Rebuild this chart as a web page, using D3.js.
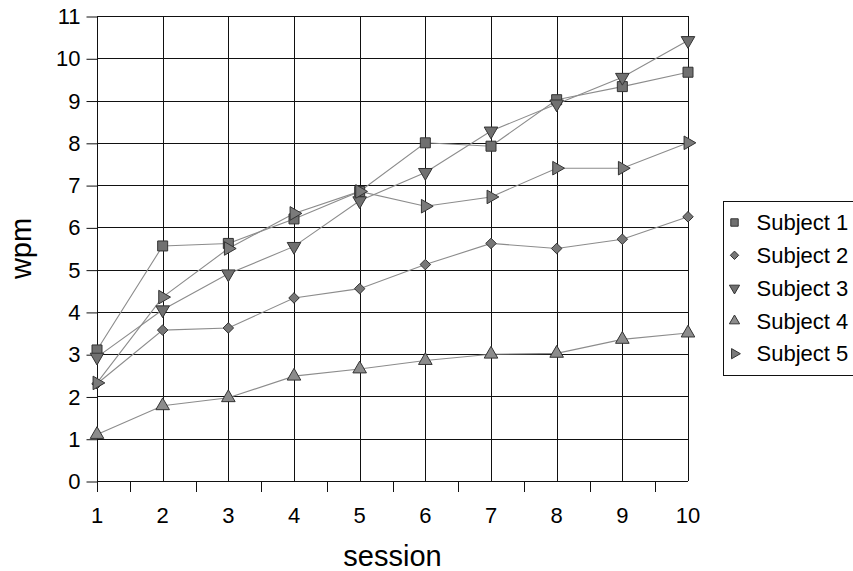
<!DOCTYPE html>
<html>
<head>
<meta charset="utf-8">
<title>wpm per session</title>
<script src="https://cdn.jsdelivr.net/npm/d3@7/dist/d3.min.js"></script>
<style>
  body { margin: 0; background: #fff; }
  svg text { font-family: "Liberation Sans", Arial, sans-serif; fill: #000; }
</style>
</head>
<body>
<div id="chart"></div>
<script>
// data
const sessions = [1, 2, 3, 4, 5, 6, 7, 8, 9, 10];
const yTicks = [0, 1, 2, 3, 4, 5, 6, 7, 8, 9, 10, 11];
const subjectNames = ["Subject 1", "Subject 2", "Subject 3", "Subject 4", "Subject 5"];
const subject1 = [3.1, 5.56, 5.62, 6.2, 6.85, 8.0, 7.92, 9.02, 9.33, 9.67];
const subject2 = [2.3, 3.57, 3.62, 4.33, 4.55, 5.12, 5.62, 5.5, 5.72, 6.25];
const subject3 = [2.93, 4.05, 4.9, 5.55, 6.63, 7.3, 8.28, 8.92, 9.55, 10.42];
const subject4 = [1.1, 1.78, 1.97, 2.48, 2.65, 2.85, 3.0, 3.02, 3.35, 3.5];
const subject5 = [2.32, 4.35, 5.5, 6.33, 6.85, 6.5, 6.72, 7.4, 7.4, 8.0];
const series = [subject1, subject2, subject3, subject4, subject5];

const width = 853, height = 571;
const margin = {top: 16, right: 165, bottom: 90, left: 97};

const svg = d3.select("#chart").append("svg")
    .attr("width", width)
    .attr("height", height);

const x = d3.scaleLinear()
    .domain([1, 10])
    .range([margin.left, width - margin.right]);

const y = d3.scaleLinear()
    .domain([0, 11])
    .range([height - margin.bottom, margin.top]);

// gridlines
svg.append("g")
    .selectAll("line")
    .data(yTicks)
    .join("line")
    .attr("x1", x(1)).attr("x2", x(10))
    .attr("y1", d => Math.round(y(d)) + 0.5)
    .attr("y2", d => Math.round(y(d)) + 0.5)
    .attr("stroke", "#111");

svg.append("g")
    .selectAll("line")
    .data(sessions)
    .join("line")
    .attr("x1", d => Math.round(x(d)) + 0.5)
    .attr("x2", d => Math.round(x(d)) + 0.5)
    .attr("y1", y(11)).attr("y2", y(0))
    .attr("stroke", "#111");

// y axis
const yAxis = g => g
    .attr("transform", `translate(${Math.round(x(1)) + 0.5},0.5)`)
    .call(d3.axisLeft(y).tickValues(yTicks).tickSize(11).tickPadding(6))
    .call(g => g.select(".domain").remove())
    .call(g => g.selectAll(".tick line").attr("stroke", "#111"))
    .call(g => g.selectAll(".tick text")
        .attr("font-size", 22)
        .attr("font-family", "Liberation Sans, Arial, sans-serif"));
svg.append("g").call(yAxis);

// x axis: labels at sessions, ticks between them
const xMid = d3.range(1, 10).map(d => d + 0.5);
svg.append("g")
    .selectAll("line")
    .data([1].concat(xMid))
    .join("line")
    .attr("x1", d => Math.round(x(d)) + 0.5)
    .attr("x2", d => Math.round(x(d)) + 0.5)
    .attr("y1", y(0)).attr("y2", y(0) + 11)
    .attr("stroke", "#111");

svg.append("g")
    .selectAll("text")
    .data(sessions)
    .join("text")
    .attr("x", d => x(d))
    .attr("y", 523)
    .attr("text-anchor", "middle")
    .attr("font-size", 22)
    .text(d => d);

// axis titles
svg.append("text")
    .attr("x", (x(1) + x(10)) / 2)
    .attr("y", 566)
    .attr("text-anchor", "middle")
    .attr("font-size", 29)
    .text("session");

svg.append("text")
    .attr("transform", `translate(31,${(y(0) + y(11)) / 2}) rotate(-90)`)
    .attr("text-anchor", "middle")
    .attr("font-size", 29)
    .text("wpm");

// marker shapes
const shapes = [
  d3.symbol().type(d3.symbolSquare).size(100),
  d3.symbol().type(d3.symbolDiamond2).size(70),
  d3.symbol().type(d3.symbolTriangle).size(80),
  d3.symbol().type(d3.symbolTriangle).size(80),
  d3.symbol().type(d3.symbolTriangle).size(80)
];
const rotations = [0, 0, 180, 0, 90];
const fills = ["#707070", "#777", "#707070", "#8c8c8c", "#7a7a7a"];

const line = d3.line()
    .x((d, i) => x(sessions[i]))
    .y(d => y(d));

const plot = svg.append("g");
series.forEach(vals => {
  plot.append("path")
      .datum(vals)
      .attr("d", line)
      .attr("fill", "none")
      .attr("stroke", "#8c8c8c")
      .attr("stroke-width", 1.1);
});
series.forEach((vals, s) => {
  plot.append("g")
      .selectAll("path")
      .data(vals)
      .join("path")
      .attr("d", shapes[s])
      .attr("transform", (d, i) => `translate(${x(sessions[i])},${y(d)}) rotate(${rotations[s]})`)
      .attr("fill", fills[s])
      .attr("stroke", "#333")
      .attr("stroke-width", 1);
});

// legend
const legend = svg.append("g").attr("transform", "translate(723.5,201.5)");
legend.append("rect")
    .attr("width", 140).attr("height", 174)
    .attr("fill", "#fff")
    .attr("stroke", "#111");
const legShapes = [
  d3.symbol().type(d3.symbolSquare).size(55),
  d3.symbol().type(d3.symbolDiamond2).size(45),
  d3.symbol().type(d3.symbolTriangle).size(45),
  d3.symbol().type(d3.symbolTriangle).size(45),
  d3.symbol().type(d3.symbolTriangle).size(45)
];
const item = legend.selectAll(".item")
    .data(subjectNames)
    .join("g")
    .attr("transform", (d, i) => `translate(0,${21 + i * 32.8})`);
item.append("path")
    .attr("d", (d, i) => legShapes[i]())
    .attr("transform", (d, i) => `translate(11,0) rotate(${rotations[i]})`)
    .attr("fill", (d, i) => fills[i])
    .attr("stroke", "#333");
item.append("text")
    .attr("x", 33)
    .attr("dy", "0.35em")
    .attr("font-size", 22)
    .text(d => d);
</script>
</body>
</html>
